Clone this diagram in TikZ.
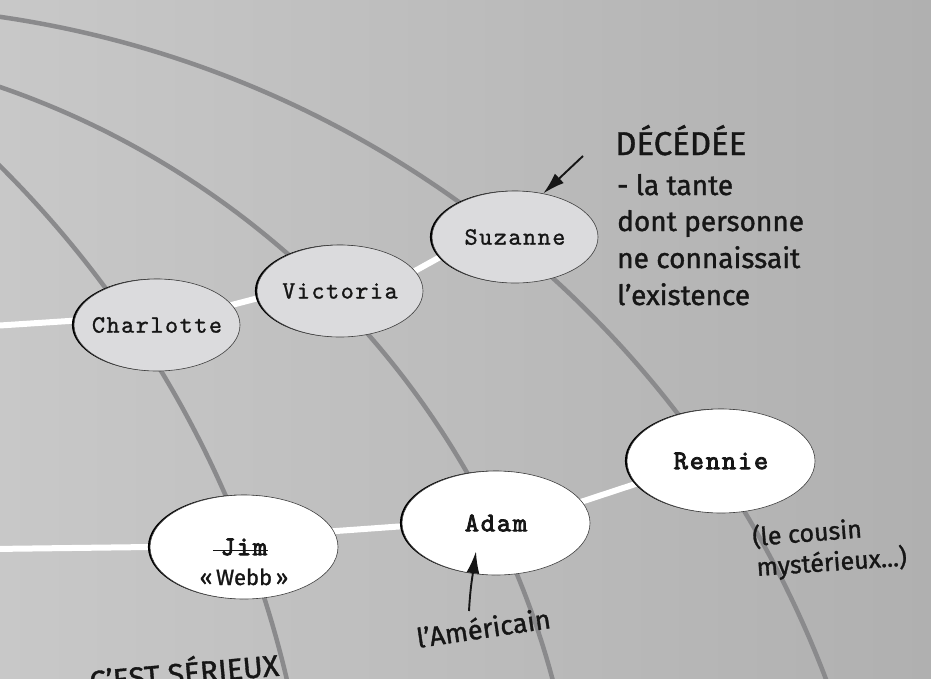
\documentclass[tikz,border=0pt]{standalone}
\usepackage{fontspec}
\usetikzlibrary{shapes.geometric,arrows.meta,shadows}
\newfontfamily\hand{Fira Sans}[FakeBold=1.2]
\newfontfamily\tw{lmmono10-regular.otf}[LetterSpace=6,FakeBold=1]
\newfontfamily\twb{lmmono10-regular.otf}[LetterSpace=7,FakeBold=3]
\definecolor{bgL}{RGB}{200,200,200}
\definecolor{bgR}{RGB}{176,176,176}
\definecolor{arcgray}{RGB}{138,138,140}
\definecolor{nodegray}{RGB}{219,219,221}
\definecolor{ink}{RGB}{22,22,22}
\pgfdeclarelayer{back}
\pgfdeclarelayer{lines}
\pgfsetlayers{back,lines,main}
\begin{document}
\begin{tikzpicture}[x=1pt,y=-1pt,
  person/.style={ellipse, inner sep=0pt, draw=black!75, line width=0.6pt,
    general shadow={fill=black, shadow xshift=-2.1pt, shadow yshift=0.2pt}},
  elder/.style={person, fill=nodegray, minimum width=166pt, minimum height=92pt,
    text=ink, font=\tw\fontsize{25}{27}\selectfont},
  young/.style={person, fill=white, minimum width=188pt, minimum height=104pt,
    text=ink, font=\twb\fontsize{27}{29}\selectfont},
  whiteline/.style={draw=white, line width=6pt, shorten <=-6pt, shorten >=-6pt},
  arcline/.style={draw=arcgray, line width=4.5pt},
  note/.style={inner sep=0pt, text=ink},
  arrowink/.style={draw=ink, line width=1.9pt, -{Latex[length=22pt,width=13pt]}}
]
\useasboundingbox (0,0) rectangle (931,678);

% background
\begin{pgfonlayer}{back}
  \fill[left color=bgL, right color=bgR] (0,0) rectangle (931,678);
\end{pgfonlayer}

% people
\node[elder] (suz) at (515,237) {\makebox[0pt]{Suzanne}};
\node[elder] (vic) at (340,291) {\makebox[0pt]{Victoria}};
\node[elder] (cha) at (157,325) {\makebox[0pt]{Charlotte}};
\node[young] (jim) at (244,547) {\makebox[0pt]{\rlap{\kern-0.3em\rule[0.14em]{2.05em}{1.5pt}}Jim}};
\node[young] (adam) at (496,523) {\makebox[0pt]{Adam}};
\node[young] (ren) at (721,461) {\makebox[0pt]{Rennie}};
\node[note, font=\hand\fontsize{22}{24}\selectfont, anchor=base] (webb) at (244,585) {«\,Webb\,»};

\coordinate (wl1) at (-8,326);
\coordinate (wl2) at (-8,549);

% lines behind the people
\begin{pgfonlayer}{lines}
  \clip (0,0) rectangle (931,678);
  \draw[arcline] ([shift={(85:1044pt)}]-150,1050) arc[start angle=85, end angle=15, radius=1044pt];
  \draw[arcline] ([shift={(78:863pt)}]-281,903) arc[start angle=78, end angle=8, radius=863pt];
  \draw[arcline] ([shift={(50:1067pt)}]-752,923) arc[start angle=50, end angle=8, radius=1067pt];
  \draw[whiteline, shorten <=0pt] (wl1) -- (cha.177);
  \draw[whiteline] (cha.15) -- (vic.185);
  \draw[whiteline] (vic.15) -- (suz.195);
  \draw[whiteline, shorten <=0pt] (wl2) -- (jim.180);
  \draw[whiteline] (jim.10) -- (adam.182);
  \draw[whiteline] (adam.14) -- (ren.195);
\end{pgfonlayer}

% annotations
\node[note, anchor=base west, font=\hand\fontsize{33}{38}\selectfont] (dec) at (615,155) {DÉCÉDÉE};
\node[note, anchor=base west, font=\hand\fontsize{28}{32}\selectfont] (d1) at (617,195) {- la tante};
\node[note, anchor=base west, font=\hand\fontsize{28}{32}\selectfont] (d2) at (617,231) {dont personne};
\node[note, anchor=base west, font=\hand\fontsize{28}{32}\selectfont] (d3) at (617,268) {ne connaissait};
\node[note, anchor=base west, font=\hand\fontsize{28}{32}\selectfont] (d4) at (617,305) {l’existence};

\node[note, anchor=base west, rotate=4.5, font=\hand\fontsize{25}{28}\selectfont] (c1) at (753,546) {(le cousin};
\node[note, anchor=base west, rotate=4, font=\hand\fontsize{25}{28}\selectfont] (c2) at (757,576) {mystérieux...)};

\node[note, anchor=base west, rotate=8.5, font=\hand\fontsize{27}{30}\selectfont] (amer) at (418,648) {l’Américain};

\begin{scope}
  \clip (0,0) rectangle (931,678);
  \node[note, anchor=base, rotate=5, font=\hand\fontsize{30}{34}\selectfont] (ser) at (185,684) {C’EST SÉRIEUX};
\end{scope}

\coordinate (sA) at (583,156);
\draw[arrowink] (sA) -- (suz.57);
\coordinate (aA) at (469,611);
\coordinate (aT) at ([xshift=-20pt,yshift=24pt]adam.south);
\draw[arrowink] (aA) to[out=87, in=-98] (aT);
\end{tikzpicture}
\end{document}
